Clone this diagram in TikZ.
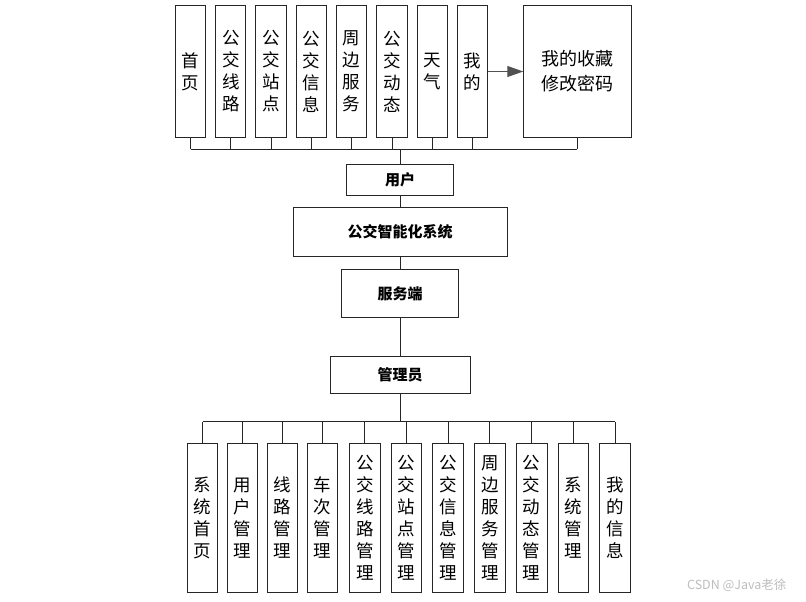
\documentclass[tikz,border=0pt]{standalone}
\usepackage{fontspec}
\setmainfont{Noto Sans CJK SC}
\usetikzlibrary{arrows.meta, positioning}
\definecolor{lineink}{HTML}{262626}
\definecolor{wmgray}{HTML}{BDBDBD}

\begin{document}
\begin{tikzpicture}[
  x=1pt, y=-1pt,
  col/.style={rectangle, draw=lineink, line width=1pt, align=center, inner sep=0pt,
              font=\fontsize{17.5}{22}\selectfont},
  topcol/.style={col, minimum width=30.3pt, minimum height=132pt},
  botcol/.style={col, minimum width=30.7pt, minimum height=148.4pt},
  mid/.style={rectangle, draw=lineink, line width=1pt, inner sep=0pt,
              font=\fontsize{15}{18}\selectfont\bfseries},
  wire/.style={draw=lineink, line width=1pt},
  ar/.style={-{Triangle[length=16pt, width=11pt]}, draw=lineink!80, line width=1pt}
]
\useasboundingbox (0,0) rectangle (806,602);

% user side
\node[topcol] (home) at (190.5,71.5) {首\\页};
\node[topcol, right=9pt of home] (route) {公\\交\\线\\路};
\node[topcol, right=9pt of route] (stop) {公\\交\\站\\点};
\node[topcol, right=9pt of stop] (info) {公\\交\\信\\息};
\node[topcol, right=9pt of info] (around) {周\\边\\服\\务};
\node[topcol, right=9pt of around] (live) {公\\交\\动\\态};
\node[topcol, right=9pt of live] (weather) {天\\气};
\node[topcol, right=9pt of weather] (mine) {我\\的};
\node[col, minimum width=107.4pt, minimum height=132pt, right=35pt of mine,
      font=\fontsize{18}{25}\selectfont] (fav) {我的收藏\\修改密码};

\draw[ar] (mine.east) -- (fav.west);

% middle chain
\node[mid, minimum width=106.6pt, minimum height=30.7pt] (user) at (400,180) {用户};
\node[mid, minimum width=214pt, minimum height=49pt, below=11.3pt of user] (sys) {公交智能化系统};
\node[mid, minimum width=117.3pt, minimum height=48.3pt, below=11.7pt of sys] (server) {服务端};
\node[mid, minimum width=140pt, minimum height=37pt, below=37.7pt of server] (admin) {管理员};

% admin side
\node[botcol, minimum width=29.5pt] (sysHome) at (202.5,518) {系\\统\\首\\页};
\node[botcol, minimum width=29.5pt, right=9.5pt of sysHome] (userMgr) {用\\户\\管\\理};
\node[botcol, minimum width=29.5pt, right=9.5pt of userMgr] (lineMgr) {线\\路\\管\\理};
\node[botcol, minimum width=29.5pt, right=9.5pt of lineMgr] (tripMgr) {车\\次\\管\\理};
\node[botcol, right=11.25pt of tripMgr] (routeMgr) {公\\交\\线\\路\\管\\理};
\node[botcol, right=10pt of routeMgr] (stopMgr) {公\\交\\站\\点\\管\\理};
\node[botcol, right=10pt of stopMgr] (infoMgr) {公\\交\\信\\息\\管\\理};
\node[botcol, right=10pt of infoMgr] (aroundMgr) {周\\边\\服\\务\\管\\理};
\node[botcol, right=10pt of aroundMgr] (liveMgr) {公\\交\\动\\态\\管\\理};
\node[botcol, right=10pt of liveMgr] (sysMgr) {系\\统\\管\\理};
\node[botcol, right=10pt of sysMgr] (myInfo) {我\\的\\信\\息};

% connectors
\coordinate (ubus) at (400,149);
\coordinate (abus) at (400,421.7);
\foreach \n in {home,route,stop,info,around,live,weather,mine,fav}
  \draw[wire] (\n.south) -- (\n.south |- ubus);
\draw[wire] (home.south |- ubus) -- (fav.south |- ubus);
\draw[wire] (user.north) -- (user.north |- ubus);
\draw[wire] (user.south) -- (sys.north);
\draw[wire] (sys.south) -- (server.north);
\draw[wire] (server.south) -- (admin.north);
\draw[wire] (admin.south) -- (abus);
\foreach \n in {sysHome,userMgr,lineMgr,tripMgr,routeMgr,stopMgr,infoMgr,aroundMgr,liveMgr,sysMgr,myInfo}
  \draw[wire] (\n.north) -- (\n.north |- abus);
\draw[wire] (sysHome.north |- abus) -- (myInfo.north |- abus);

\node[font=\fontsize{12.5}{14}\selectfont, text=wmgray, anchor=east] (mark) at (790,585) {CSDN @Java老徐};
\end{tikzpicture}
\end{document}
